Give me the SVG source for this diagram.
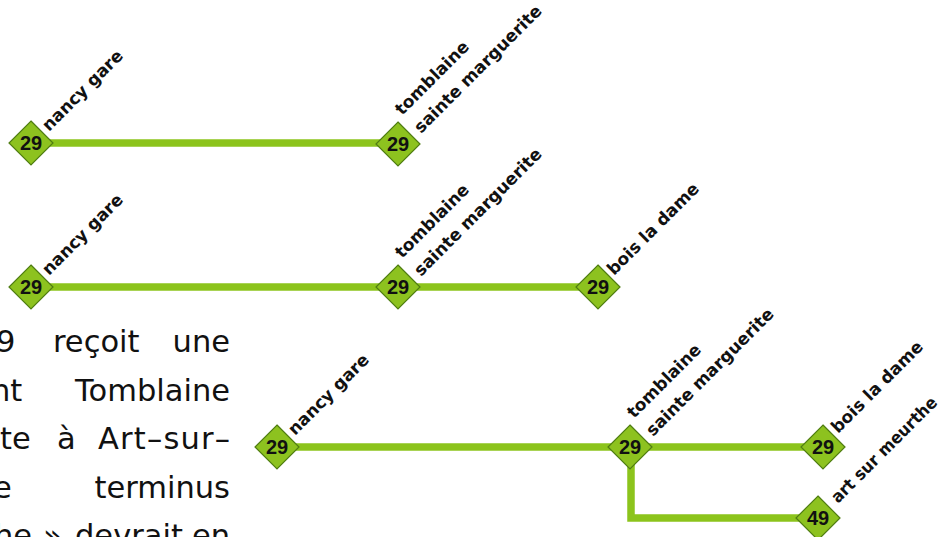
<svg xmlns="http://www.w3.org/2000/svg" width="944" height="537" viewBox="0 0 944 537">
  <defs>
    <style>
      .line { stroke: #8cc41c; stroke-width: 7.5; fill: none; stroke-linecap: butt; stroke-linejoin: miter; }
      .stop { fill: #8dc21f; stroke: #4f7d12; stroke-width: 1.2; }
      .num { font-family: "Liberation Sans", Arial, sans-serif; font-weight: bold; font-size: 20px; fill: #111; text-anchor: middle; }
      .lbl { font-family: "DejaVu Sans", "Liberation Sans", sans-serif; font-weight: bold; font-size: 17px; fill: #111; }
      .para { font-family: "DejaVu Sans", Verdana, sans-serif; font-size: 30.5px; fill: #111; }
      .end { text-anchor: end; }
    </style>
    <polygon id="diamond" class="stop" points="0,-22 22,0 0,22 -22,0"/>
  </defs>

  <rect width="944" height="537" fill="#ffffff"/>

  <!-- justified paragraph, clipped at the left and bottom edges -->
  <g id="paragraph" class="para">
    <text x="-4" y="352">9</text>
    <text x="53" y="352">reçoit</text>
    <text class="end" x="230" y="352">une</text>

    <text x="-9" y="400.5">nt</text>
    <text class="end" x="230" y="400.5">Tomblaine</text>

    <text x="0" y="449">te</text>
    <text x="57" y="449">à</text>
    <text x="98" y="449" textLength="132" lengthAdjust="spacing">Art–sur–</text>

    <text x="-7" y="498">e</text>
    <text class="end" x="230" y="498">terminus</text>

    <text x="-6" y="546">he</text>
    <text x="43" y="546">»</text>
    <text x="75" y="546">devrait</text>
    <text class="end" x="230" y="546">en</text>
  </g>

  <!-- route lines -->
  <g id="connectors">
    <line class="line" x1="31" y1="143" x2="398" y2="143"/>
    <line class="line" x1="31" y1="287" x2="598" y2="287"/>
    <line class="line" x1="277" y1="447" x2="823" y2="447"/>
    <polyline class="line" points="631,447 631,518 818,518"/>
  </g>

  <!-- diagram 1 -->
  <g id="d1-nancy-gare">
    <use href="#diamond" x="31" y="143"/>
    <text class="num" x="31" y="150">29</text>
    <text class="lbl" transform="translate(49 132) rotate(-45)">nancy gare</text>
  </g>
  <g id="d1-tomblaine">
    <use href="#diamond" x="398" y="144"/>
    <text class="num" x="398" y="151">29</text>
    <text class="lbl" transform="translate(402 116) rotate(-45)">tomblaine</text>
    <text class="lbl" transform="translate(421 134) rotate(-45)">sainte marguerite</text>
  </g>

  <!-- diagram 2 -->
  <g id="d2-nancy-gare">
    <use href="#diamond" x="31" y="287"/>
    <text class="num" x="31" y="294">29</text>
    <text class="lbl" transform="translate(49 276) rotate(-45)">nancy gare</text>
  </g>
  <g id="d2-tomblaine">
    <use href="#diamond" x="398" y="287"/>
    <text class="num" x="398" y="294">29</text>
    <text class="lbl" transform="translate(402 259) rotate(-45)">tomblaine</text>
    <text class="lbl" transform="translate(421 277) rotate(-45)">sainte marguerite</text>
  </g>
  <g id="d2-bois-la-dame">
    <use href="#diamond" x="598" y="287"/>
    <text class="num" x="598" y="294">29</text>
    <text class="lbl" transform="translate(614 276) rotate(-45)">bois la dame</text>
  </g>

  <!-- diagram 3 -->
  <g id="d3-nancy-gare">
    <use href="#diamond" x="277" y="447"/>
    <text class="num" x="277" y="454">29</text>
    <text class="lbl" transform="translate(295 436) rotate(-45)">nancy gare</text>
  </g>
  <g id="d3-tomblaine">
    <use href="#diamond" x="630" y="447"/>
    <text class="num" x="630" y="454">29</text>
    <text class="lbl" transform="translate(634 419) rotate(-45)">tomblaine</text>
    <text class="lbl" transform="translate(653 437) rotate(-45)">sainte marguerite</text>
  </g>
  <g id="d3-bois-la-dame">
    <use href="#diamond" x="823" y="447"/>
    <text class="num" x="823" y="454">29</text>
    <text class="lbl" transform="translate(838 434) rotate(-45)">bois la dame</text>
  </g>
  <g id="d3-art-sur-meurthe">
    <use href="#diamond" x="818" y="518"/>
    <text class="num" x="818" y="525">49</text>
    <text class="lbl" transform="translate(838 504) rotate(-45)" textLength="142" lengthAdjust="spacingAndGlyphs">art sur meurthe</text>
  </g>
</svg>
